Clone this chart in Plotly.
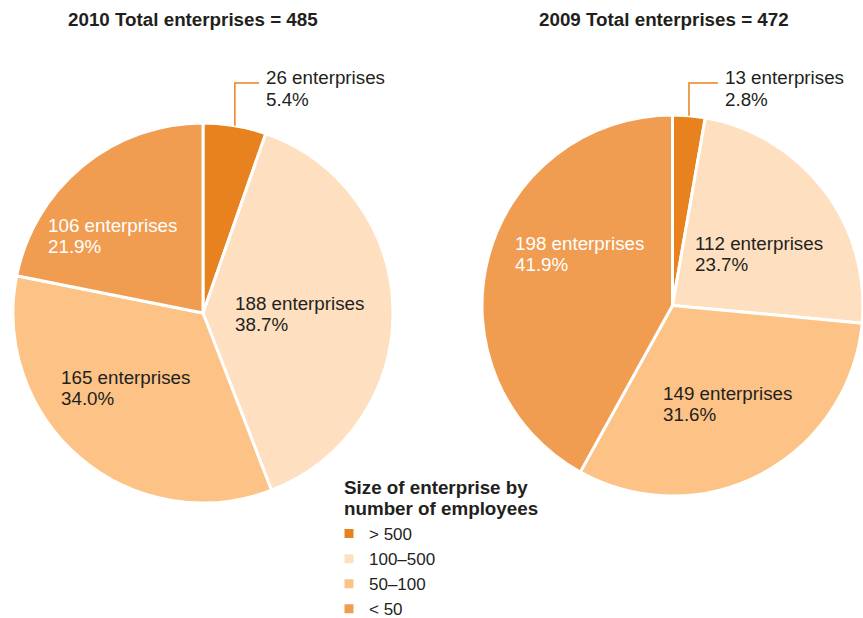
import math
import plotly.graph_objects as go

W, H = 863, 618

# Enterprise counts by size class (employees)
size_classes = ["> 500", "100–500", "50–100", "< 50"]
colors = ["#E8821E", "#FEDFC0", "#FDC386", "#F09D51"]

counts_2010 = [26, 188, 165, 106]
share_2010 = [5.4, 38.7, 34.0, 21.9]
total_2010 = 485

counts_2009 = [13, 112, 149, 198]
share_2009 = [2.8, 23.7, 31.6, 41.9]
total_2009 = 472

FONT = "Liberation Sans, Arial, Helvetica, sans-serif"
DARK = "#231F20"
LABEL_SIZE = 18.8


def px(x):
    return x / W


def py(y):
    return 1 - y / H


# Pie placement in pixels: (left, top, diameter)
pie_boxes = {
    "2010": (13, 123, 380),
    "2009": (482, 115, 381),
}


def domain(box):
    left, top, d = box
    return dict(x=[px(left), min(px(left + d), 1.0)], y=[py(top + d), py(top)])


fig = go.Figure()
for year, counts, box in [("2010", counts_2010, pie_boxes["2010"]),
                          ("2009", counts_2009, pie_boxes["2009"])]:
    fig.add_trace(go.Pie(
        labels=size_classes,
        values=counts,
        sort=False,
        direction="clockwise",
        rotation=0,
        marker=dict(colors=colors, line=dict(color="white", width=3)),
        textinfo="none",
        hoverinfo="label+value+percent",
        domain=domain(box),
        name=year,
        showlegend=(year == "2010"),
    ))

annotations = []
shapes = []


def label(x, y, count, share, color=DARK):
    # two-line slice label: count, then share
    for i, txt in enumerate([f"{count} enterprises", f"{share:.1f}%"]):
        annotations.append(dict(
            x=px(x), y=py(y + i * 21.5), xref="paper", yref="paper",
            text=txt, showarrow=False, xanchor="left", yanchor="middle",
            font=dict(family=FONT, size=LABEL_SIZE, color=color),
        ))


# 2010 slice labels
label(46, 225, counts_2010[3], share_2010[3], "white")
label(233, 303, counts_2010[1], share_2010[1])
label(59, 377, counts_2010[2], share_2010[2])
label(264, 78, counts_2010[0], share_2010[0])

# 2009 slice labels
label(513, 243, counts_2009[3], share_2009[3], "white")
label(693, 243, counts_2009[1], share_2009[1])
label(661, 393, counts_2009[2], share_2009[2])
label(723, 78, counts_2009[0], share_2009[0])


def leader(box, counts, elbow_y, end_x):
    # elbow line from the rim of the first slice up to its outside label
    left, top, d = box
    r = d / 2
    cx, cy = left + r, top + r
    frac = counts[0] / sum(counts) / 2
    ang = 2 * math.pi * frac
    x0 = cx + r * math.sin(ang)
    y0 = cy - r * math.cos(ang)
    shapes.append(dict(
        type="path", xref="paper", yref="paper",
        path=f"M {px(x0)} {py(y0)} L {px(x0)} {py(elbow_y)} L {px(end_x)} {py(elbow_y)}",
        line=dict(color="#E8821E", width=1.5),
    ))


leader(pie_boxes["2010"], counts_2010, 83, 259)
leader(pie_boxes["2009"], counts_2009, 83, 718)

# Chart titles
for x, year, total in [(193, 2010, total_2010), (664, 2009, total_2009)]:
    annotations.append(dict(
        x=px(x), y=py(20), xref="paper", yref="paper", showarrow=False,
        text=f"<b>{year} Total enterprises = {total}</b>", xanchor="center", yanchor="middle",
        font=dict(family=FONT, size=18.8, color=DARK),
    ))

# Legend heading
for i, txt in enumerate(["Size of enterprise by", "number of employees"]):
    annotations.append(dict(
        x=px(342), y=py(487 + i * 21.5), xref="paper", yref="paper", showarrow=False,
        text=f"<b>{txt}</b>", xanchor="left", yanchor="middle",
        font=dict(family=FONT, size=18.8, color=DARK),
    ))

fig.update_layout(
    width=W, height=H,
    margin=dict(l=0, r=0, t=0, b=0, autoexpand=False),
    paper_bgcolor="white",
    plot_bgcolor="white",
    annotations=annotations,
    shapes=shapes,
    legend=dict(
        font=dict(family=FONT, size=17, color=DARK),
        x=px(329), y=py(516), xanchor="left", yanchor="top",
        bgcolor="rgba(0,0,0,0)",
        traceorder="normal",
    ),
)

fig.write_html("out.html")
